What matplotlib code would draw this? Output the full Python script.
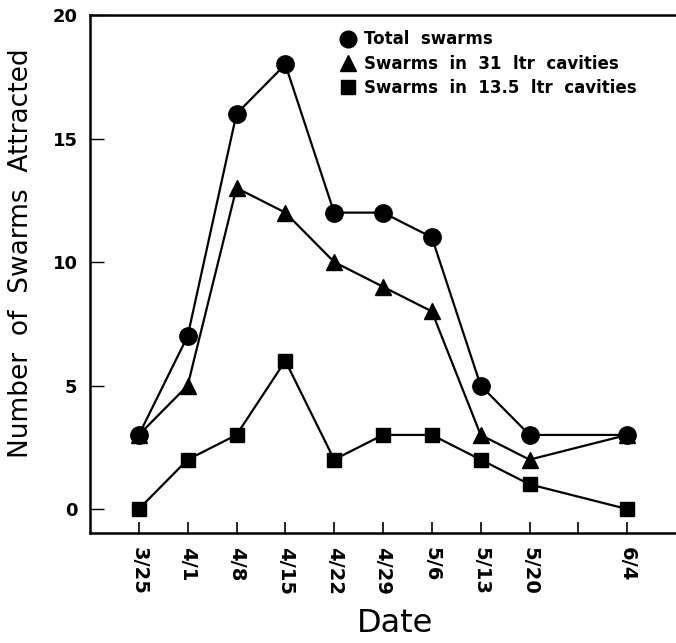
import matplotlib.pyplot as plt
from matplotlib.lines import Line2D

dates = ['3/25', '4/1', '4/8', '4/15', '4/22', '4/29', '5/6', '5/13', '5/20', '6/4']
date_pos = [0, 1, 2, 3, 4, 5, 6, 7, 8, 10]
total = [3, 7, 16, 18, 12, 12, 11, 5, 3, 3]
cav31 = [3, 5, 13, 12, 10, 9, 8, 3, 2, 3]
cav135 = [0, 2, 3, 6, 2, 3, 3, 2, 1, 0]
legend_labels = ['Total  swarms', 'Swarms  in  31  ltr  cavities', 'Swarms  in  13.5  ltr  cavities']

plt.rcParams['font.family'] = 'DejaVu Sans'

fig = plt.figure(figsize=(6.76, 6.43), dpi=100)
ax = fig.add_axes([90 / 676, 110 / 643, 586 / 676, 518 / 643])

ax.plot(date_pos, total, '-o', color='black', lw=1.6, ms=12.5, clip_on=False)
ax.plot(date_pos, cav31, '-^', color='black', lw=1.6, ms=11, clip_on=False)
ax.plot(date_pos, cav135, '-s', color='black', lw=1.6, ms=10, clip_on=False)

ax.set_xlim(-1, 11)
ax.set_ylim(-0.97, 20)

ax.set_yticks([0, 5, 10, 15, 20])
ax.set_xticks(list(range(11)))
ax.set_xticklabels(dates[:9] + [''] + [dates[9]], rotation=-90)

for lab in ax.get_yticklabels():
    lab.set_fontweight('bold')
    lab.set_fontsize(13)
for lab in ax.get_xticklabels():
    lab.set_fontweight('bold')
    lab.set_fontsize(14)

ax.tick_params(axis='y', direction='in', length=10, width=1, pad=9)
ax.tick_params(axis='x', direction='in', length=8, width=1.2, pad=10)

ax.spines['right'].set_visible(False)
for s in ['left', 'top', 'bottom']:
    ax.spines[s].set_linewidth(1.8)

ax.set_ylabel('Number  of  Swarms  Attracted', fontsize=19)
ax.yaxis.set_label_coords(-0.095, 0.54)
ax.set_xlabel('Date', fontsize=23)
ax.xaxis.set_label_coords(0.52, -0.145)

handles = [Line2D([], [], marker=m, color='black', ls='none', ms=s)
           for m, s in [('o', 12), ('^', 11), ('s', 10)]]
ax.legend(handles, legend_labels, loc='upper left', bbox_to_anchor=(0.417, 0.983),
          frameon=False, handlelength=0.8, handletextpad=0.6, labelspacing=0.38,
          prop={'weight': 'bold', 'size': 12}, borderaxespad=0)

fig.savefig('out.png', dpi=100)
